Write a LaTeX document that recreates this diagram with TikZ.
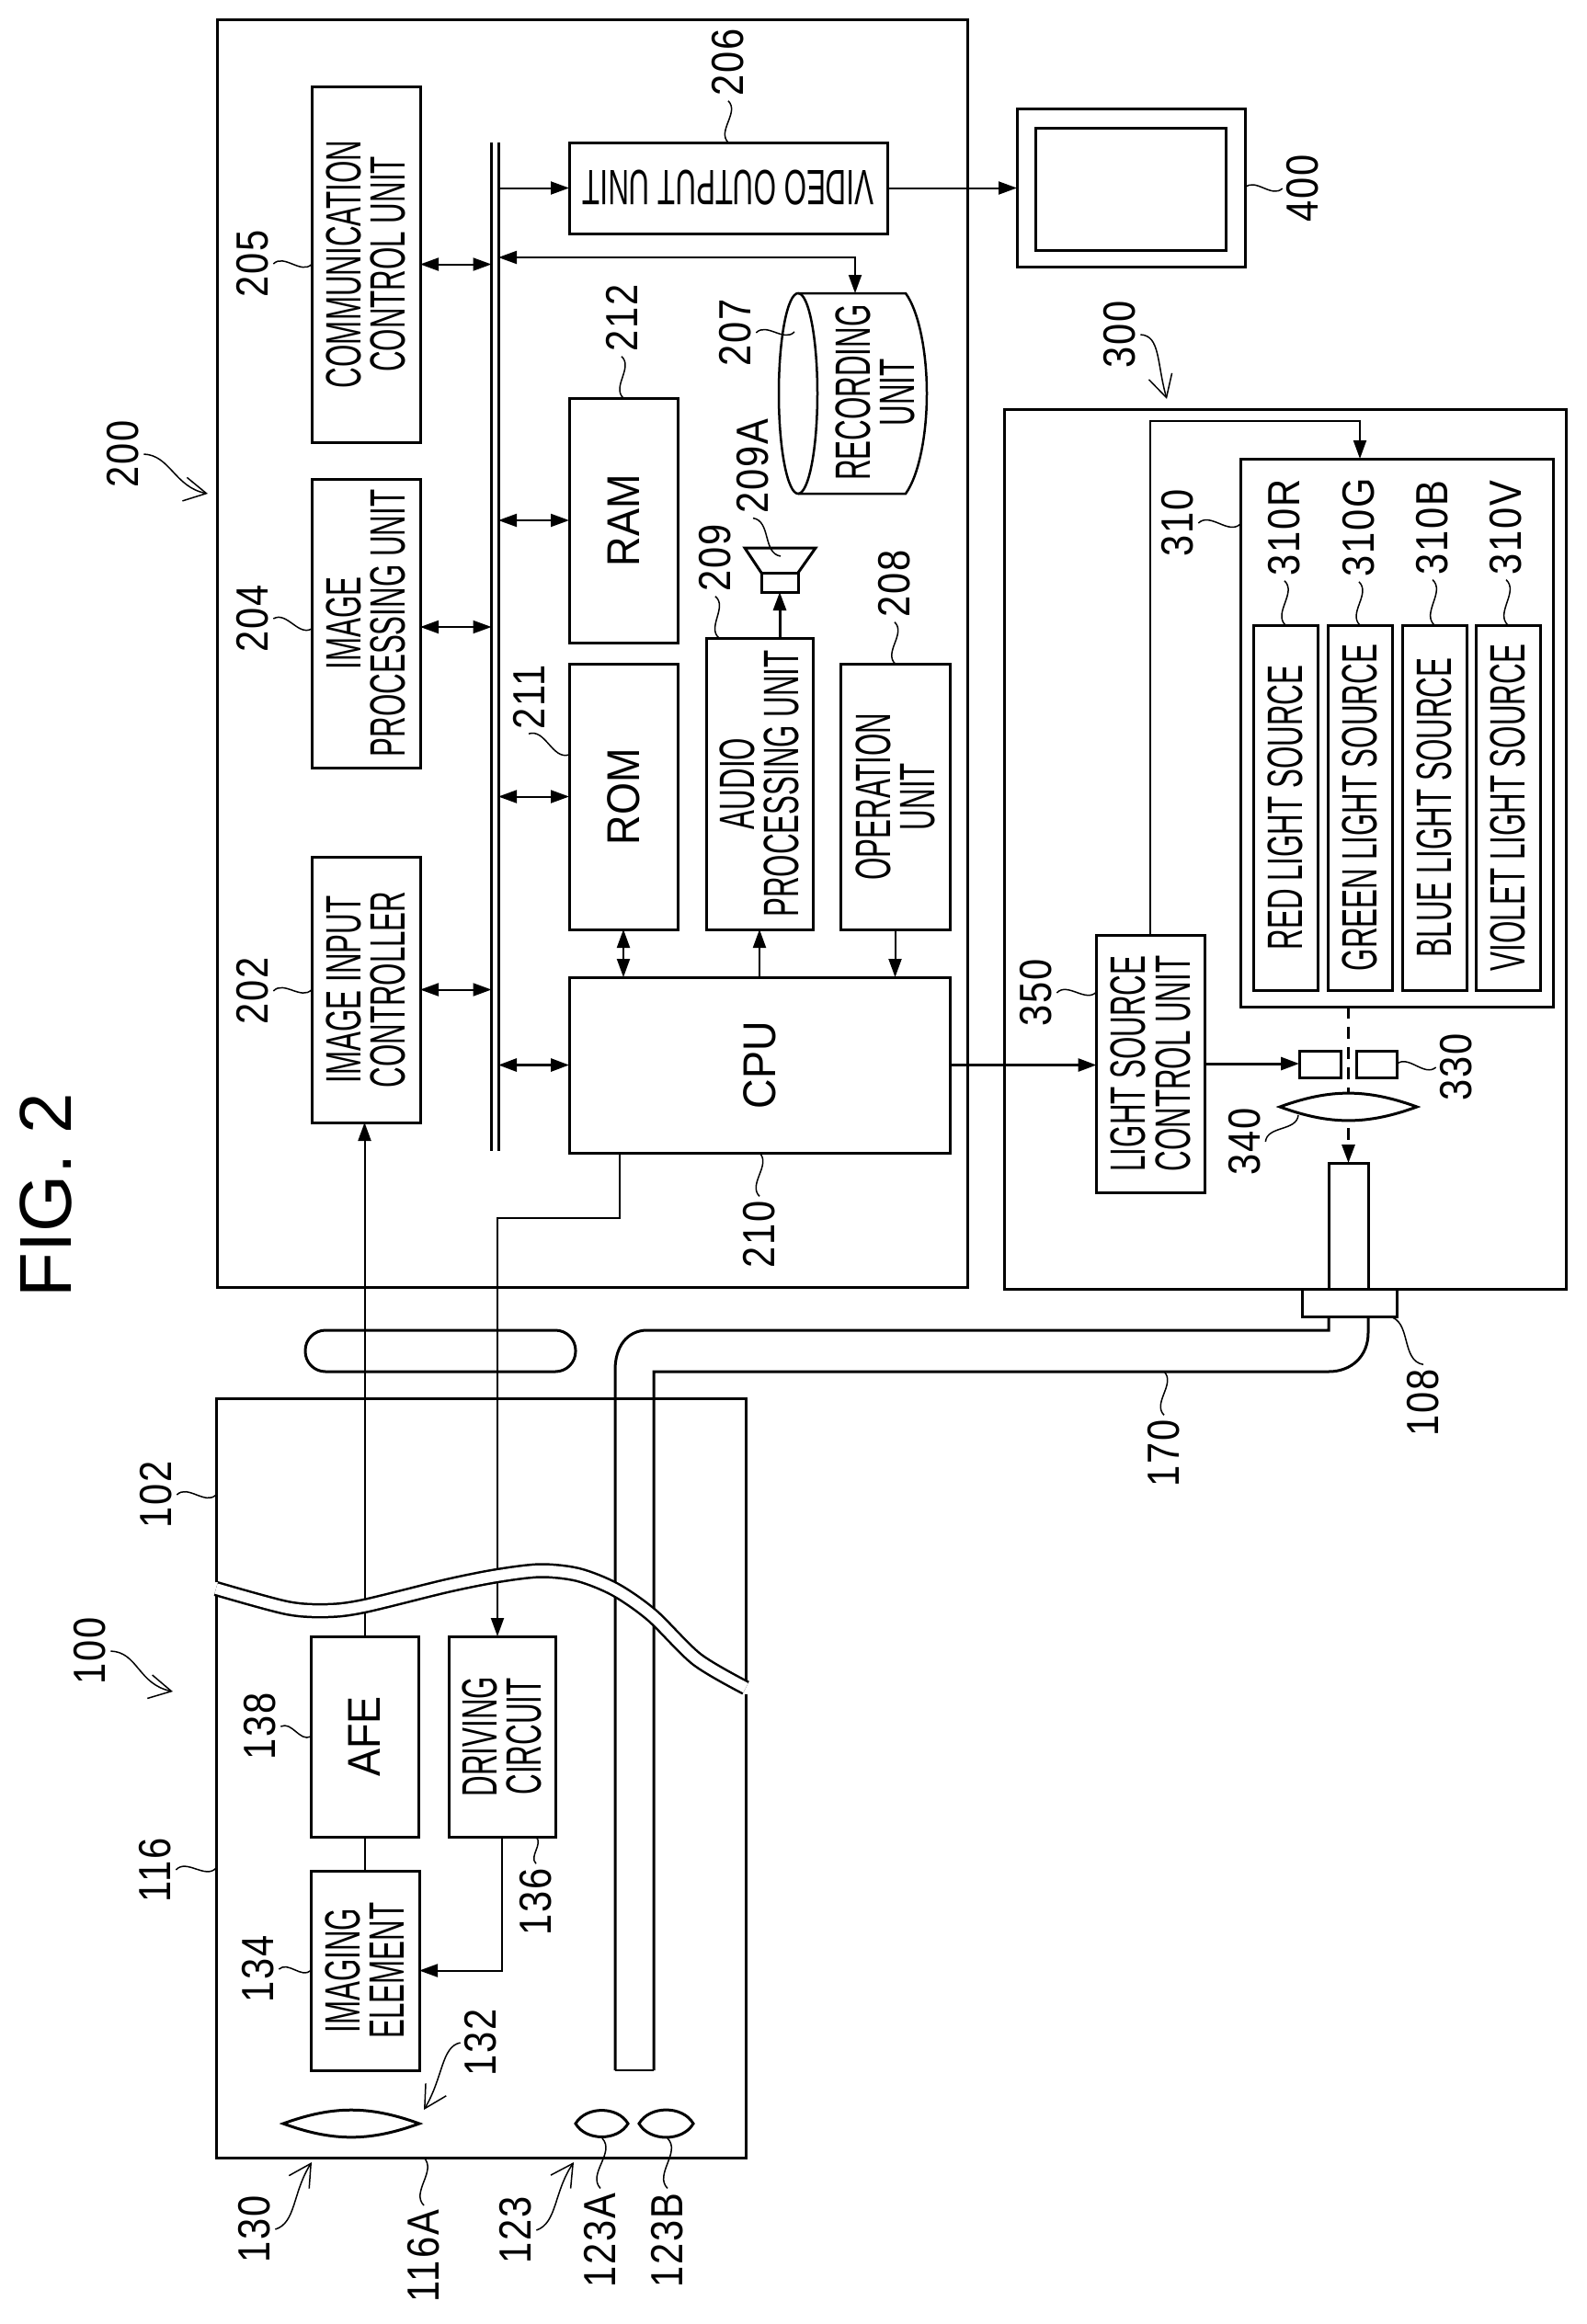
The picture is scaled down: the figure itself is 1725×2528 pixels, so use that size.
\documentclass[tikz,border=0pt]{standalone}
\usepackage{fontspec}
\setmainfont{Liberation Sans}
\newfontfamily\blockfam[FakeStretch=0.58]{Liberation Sans}
\newfontfamily\bigfam[FakeStretch=0.9]{Liberation Sans}
\newfontfamily\numfam[FakeStretch=0.85,LetterSpace=4]{Liberation Sans}
\usetikzlibrary{arrows.meta}
\usetikzlibrary{positioning}
\newcommand{\vtxt}[1]{\rotatebox{90}{#1}}
\newcommand{\vvtxt}[2]{\rotatebox{90}{\shortstack{#1\\[7.5pt]#2}}}
\tikzset{
  box/.style={draw, line width=3pt, inner sep=0pt, outer sep=0pt, font=\blockfam\fontsize{54}{50}\selectfont},
  bigbox/.style={box, font=\bigfam\fontsize{50}{50}\selectfont},
  wh/.style 2 args={minimum width=#1pt, minimum height=#2pt},
  num/.style={rotate=90, inner sep=0pt, outer sep=5pt, font=\numfam\fontsize{49}{49}\selectfont},
  lead/.style={-, line width=1.5pt, relative, out=45, in=225},
  pointer/.style={-{Straight Barb[length=24pt,width=26pt]}, line width=1.5pt},
  heavy/.style={line width=3pt},
  lensline/.style={line width=3pt, fill=white}
}
\begin{document}
\begin{tikzpicture}[x=1pt, y=-1pt, line width=2pt, >={Triangle[length=20pt,width=14pt]}]
    \useasboundingbox (0,0) rectangle (1725,2528);

    \node[rotate=90, inner sep=0pt, font=\fontsize{80}{80}\selectfont] (fig) at (50,1300) {FIG. 2};

    \node[box, wh={816}{1379.5}] (unit200) at (644,711) {};
    \node[box, wh={611.5}{957}] (unit300) at (1397.75,923.5) {};

    \node[box, wh={118}{387}] (comm) at (398,287.5) {\vvtxt{COMMUNICATION}{CONTROL UNIT}};
    \node[box, wh={118}{314}] (improc) [below=40pt of comm] {\vvtxt{IMAGE}{PROCESSING UNIT}};
    \node[box, wh={118}{289}] (imgin) [below=97pt of improc] {\vvtxt{IMAGE INPUT}{CONTROLLER}};
    \node[minimum width=7.5pt, minimum height=1097pt, inner sep=0pt, outer sep=0pt] (bus) at (538.25,703.5) {};
    \node[box, wh={346}{99}] (video) at (792,204.5) {\rotatebox{180}{VIDEO OUTPUT UNIT}};
    \node[bigbox, wh={118}{266}] (ram) at (678,566) {\vtxt{RAM}};
    \node[bigbox, wh={118}{289}] (rom) [below=23pt of ram] {\vtxt{ROM}};
    \node[bigbox, wh={414}{191}] (cpu) at (826,1158.5) {\vtxt{CPU}};
    \node[box, wh={116}{317}] (audio) at (826,852.5) {\vvtxt{AUDIO}{PROCESSING UNIT}};
    \node[box, wh={119}{289}] (oper) at (973.5,866.5) {\vvtxt{OPERATION}{UNIT}};
    \node[box, draw=none, wh={100}{218}] (rec) at (952,427) {\vvtxt{RECORDING}{UNIT}};
    \draw[line width=2.5pt] (868,428) ellipse [x radius=21pt, y radius=109pt];
    \draw[line width=2.5pt] (868,319) -- (985,319) .. controls (1000,340) and (1008,385) .. (1008,428) .. controls (1008,471) and (1000,516) .. (985,537) -- (868,537);
    \node[box, wh={40}{21}] (spk) at (848,633.5) {};
    \draw[heavy] (spk.north west) -- (810,596) -- (887,596) -- (spk.north east);
    \node[box, wh={248}{172}] (monitor) at (1230,204) {};
    \node[box, wh={207}{133}] (screen) at (1229.5,205.5) {};

    \node[box, wh={117.5}{280}] (ctrl) at (1251.25,1157) {\vvtxt{LIGHT SOURCE}{CONTROL UNIT}};
    \node[box, wh={340}{596}] (src) at (1519,797) {};
    \node[box, wh={70}{397}] (red) at (1398,878.5) {\vtxt{RED LIGHT SOURCE}};
    \node[box, wh={70}{397}] (green) [right=11pt of red] {\vtxt{GREEN LIGHT SOURCE}};
    \node[box, wh={70}{397}] (blue) [right=11pt of green] {\vtxt{BLUE LIGHT SOURCE}};
    \node[box, wh={70}{397}] (violet) [right=10pt of blue] {\vtxt{VIOLET LIGHT SOURCE}};
    \node[box, wh={45}{29}] (shutl) at (1435.5,1157.5) {};
    \node[box, wh={44}{29}] (shutr) at (1497,1157.5) {};
    \node[box, wh={43}{137}] (tube) at (1466.5,1333.5) {};
    \node[box, wh={103}{30}] (conn) at (1467.5,1417) {};
    \node[box, wh={294}{45}, rounded corners=22pt] (pill) at (479,1469.5) {};

    \node[bigbox, wh={117}{218}] (afe) at (396.5,1889) {\vtxt{AFE}};
    \node[box, wh={116}{218}] (drive) at (546,1889) {\vvtxt{DRIVING}{CIRCUIT}};
    \node[box, wh={118}{217}] (imaging) at (397,2143.5) {\vvtxt{IMAGING}{ELEMENT}};

    \coordinate (recturn) at (930,280);
    \coordinate (srcturn) at (1479,458);
    \coordinate (cpuout) at (674,1254);
    \coordinate (scope102) at (235,1626);
    \coordinate (scope116) at (235,2032);
    \coordinate (scope116A) at (461,2347);
    \coordinate (rec207) at (864,361);
    \coordinate (cone209A) at (849,605);
    \coordinate (lens340) at (1412,1213);
    \coordinate (lensA) at (655,2326);
    \coordinate (lensB) at (726,2326);
    \coordinate (tip100) at (188,1840);
    \coordinate (tip200) at (226,537);
    \coordinate (tip300) at (1269,434);
    \coordinate (tip130) at (339,2352);
    \coordinate (tip123) at (624,2352);
    \coordinate (tip132) at (461,2295);

    \draw[heavy] (bus.north west) -- (bus.south west);
    \draw[heavy] (bus.north east) -- (bus.south east);

    \path (comm.east) edge[<->] (comm.east -| bus.west)
          ([yshift=-4pt]improc.east) edge[<->] ([yshift=-4pt]improc.east -| bus.west)
          (imgin.east) edge[<->] (imgin.east -| bus.west)
          (bus.east |- ram.west) edge[<->] (ram.west)
          (bus.east |- rom.west) edge[<->] (rom.west)
          (bus.east |- cpu.west) edge[<->, heavy] (cpu.west)
          (bus.east |- video.west) edge[->] (video.west)
          (video.east) edge[->] (video.east -| monitor.west)
          (rom.south) edge[<->] (rom.south |- cpu.north)
          (cpu.north) edge[->] (audio.south)
          (oper.south) edge[->] (oper.south |- cpu.north)
          (spk.south |- audio.north) edge[->, heavy] (spk.south)
          (cpu.east) edge[->, heavy] (cpu.east -| ctrl.west)
          (ctrl.east) edge[->, heavy] (ctrl.east -| shutl.west)
          (afe.south) edge (afe.south |- imaging.north);
    \draw[<->] (recturn -| bus.east) -- (recturn) -- (recturn |- 930,319);
    \draw[->] (afe.north) -- (afe.north |- imgin.south);
    \draw[->] (cpuout) -- ++(0,71) -| ([xshift=-5pt]drive.north);
    \draw[->] (drive.south) |- (imaging.east);
    \draw[->] (ctrl.north) |- (srcturn) -- (srcturn |- src.north);
    \draw[->, line width=3pt, dash pattern=on 13pt off 9pt] (tube.north |- src.south) -- (tube.north);

    \draw[heavy] (669,2252) -- (669,1490) .. controls (669,1465) and (682,1447) .. (704,1447) -- (1445,1447) -- (1445,1432);
    \draw[heavy] (711,2252) -- (711,1492) -- (1445,1492) .. controls (1470,1492) and (1488,1475) .. (1488,1450) -- (1488,1432);
    \draw[line width=2pt] (669,2252) -- (711,2252);

    \draw[heavy] (235,1721) -- (235,1521) -- (811,1521) -- (811,1829);
    \draw[heavy] (235,1735) -- (235,2347) -- (811,2347) -- (811,1843);
    \draw[line width=2.5pt, double distance=11.5pt] plot[smooth] coordinates {(235,1728) (312,1749) (356,1752) (396,1747) (486,1725) (541,1714) (588,1708.5) (629,1713) (669,1729) (709,1757) (758,1805) (811,1836)};

    \draw[lensline] (1392,1204) to[bend left=20] (1541,1204) to[bend left=20] (1392,1204) -- cycle;
    \draw[lensline] (308,2310) to[bend left=20] (456,2310) to[bend left=20] (308,2310) -- cycle;
    \draw[lensline] (626,2310) to[bend left=60] (683,2310) to[bend left=60] (626,2310) -- cycle;
    \draw[lensline] (695,2310) to[bend left=60] (754,2310) to[bend left=60] (695,2310) -- cycle;

    \node[num] (l100) at (98,1796) {100};
    \node[num] (l102) at (170,1626) {102};
    \node[num] (l116) at (169,2034) {116};
    \node[num] (l116A) at (461,2454) {116A};
    \node[num] (l123) at (561,2426) {123};
    \node[num] (l123A) at (653,2437) {123A};
    \node[num] (l123B) at (726,2437) {123B};
    \node[num] (l130) at (277,2425) {130};
    \node[num] (l132) at (523,2222) {132};
    \node[num] (l134) at (281,2142) {134};
    \node[num] (l136) at (583,2069) {136};
    \node[num] (l138) at (283,1878) {138};
    \node[num] (l108) at (1548,1526) {108};
    \node[num] (l170) at (1266,1581) {170};
    \node[num] (l200) at (134,494) {200};
    \node[num] (l202) at (275,1078) {202};
    \node[num] (l204) at (275,673) {204};
    \node[num] (l205) at (275,287) {205};
    \node[num] (l206) at (792,68) {206};
    \node[num] (l207) at (800,362) {207};
    \node[num] (l208) at (973,635) {208};
    \node[num] (l209) at (778,607) {209};
    \node[num] (l209A) at (819,507) {209A};
    \node[num] (l210) at (826,1343) {210};
    \node[num] (l211) at (575,758) {211};
    \node[num] (l212) at (676,346) {212};
    \node[num] (l300) at (1218,364) {300};
    \node[num] (l310) at (1281,569) {310};
    \node[num] (l310R) at (1397,574) {310R};
    \node[num] (l310G) at (1478,574) {310G};
    \node[num] (l310B) at (1558,574) {310B};
    \node[num] (l310V) at (1638,574) {310V};
    \node[num] (l330) at (1584,1161) {330};
    \node[num] (l340) at (1354,1242) {340};
    \node[num] (l350) at (1127,1080) {350};
    \node[num] (l400) at (1417,205) {400};

    \path (l102.south) edge[lead] (scope102)
          (l116.south) edge[lead] (scope116)
          (scope116A) edge[lead] (l116A.east)
          (lensA) edge[lead] (l123A.east)
          (lensB) edge[lead] (l123B.east)
          (l134.south) edge[lead] (imaging.west)
          (drive.south -| l136) edge[lead] (l136.east)
          (l138.south) edge[lead] (afe.west)
          ([xshift=43pt]conn.south) edge[lead] (l108.east)
          (l170.east |- 0,1492) edge[lead] (l170.east)
          (l202.south) edge[lead] (imgin.west)
          (l204.south) edge[lead] ([yshift=-6pt]improc.west)
          (l205.south) edge[lead] (comm.west)
          (l206.west) edge[lead] (video.north)
          (l207.south) edge[lead] (rec207)
          (l208.west) edge[lead] (oper.north)
          (l209.west) edge[lead] ([xshift=14pt]audio.north west)
          (l209A.west) edge[lead] (cone209A)
          (cpu.south) edge[lead] (l210.east)
          (l211.west) edge[lead] ([yshift=-99pt]rom.north west)
          (l212.west) edge[lead] (ram.north)
          (l310.south) edge[lead] ([yshift=227pt]src.west)
          (l310R.west) edge[lead] (red.north)
          (l310G.west) edge[lead] (green.north)
          (l310B.west) edge[lead] (blue.north)
          (l310V.west) edge[lead] (violet.north)
          (shutr.east) edge[lead] (l330.north)
          (l340.south) edge[lead] (lens340)
          (l350.south) edge[lead] ([yshift=78pt]ctrl.west)
          (monitor.east) edge[lead] (l400.north);

    \draw[pointer] (l100.south) .. controls (150,1797) and (150,1832) .. (tip100);
    \draw[pointer] (l130.south) .. controls (322,2418) and (318,2385) .. (tip130);
    \draw[pointer] (l123.south) .. controls (606,2418) and (602,2385) .. (tip123);
    \draw[pointer] (l132.north) .. controls (480,2226) and (482,2260) .. (tip132);
    \draw[pointer] (l200.south) .. controls (185,495) and (190,530) .. (tip200);
    \draw[pointer] (l300.south) .. controls (1262,365) and (1258,395) .. (tip300);
\end{tikzpicture}
\end{document}
